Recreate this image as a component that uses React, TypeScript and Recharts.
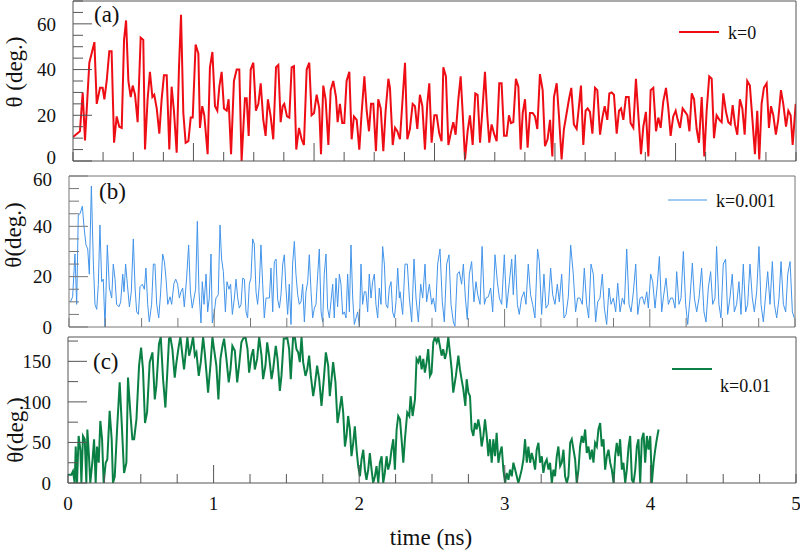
import { LineChart, Line, XAxis, YAxis } from "recharts";

const FONT = '"Liberation Serif", "Times New Roman", serif';
const W = 800;
const H = 554;

// (a) k=0 : [time (ns), theta (deg.)]
const kZero = [
  [0, 10.5], [0.048, 13], [0.067, 30], [0.083, 9], [0.113, 43], [0.148, 52], [0.164, 25], [0.187, 32], [0.205, 32], [0.217, 27],
  [0.233, 35], [0.251, 48], [0.267, 48], [0.284, 8], [0.302, 19.5], [0.32, 15], [0.337, 14.5], [0.353, 53], [0.367, 61.5], [0.383, 35],
  [0.399, 28], [0.413, 33], [0.429, 29], [0.447, 17], [0.468, 54], [0.486, 53], [0.498, 5], [0.516, 27], [0.532, 39], [0.549, 28],
  [0.562, 29], [0.579, 23], [0.597, 12], [0.613, 27], [0.629, 37.5], [0.648, 37.5], [0.666, 5], [0.682, 32.5], [0.698, 22], [0.717, 3.6],
  [0.733, 41], [0.747, 64], [0.763, 21], [0.779, 8], [0.798, 8.7], [0.814, 19], [0.828, 19], [0.848, 51], [0.867, 47], [0.878, 14.5],
  [0.894, 24], [0.908, 20], [0.931, 3], [0.947, 41], [0.964, 47.7], [0.982, 24], [0.998, 22], [1.012, 32.5], [1.028, 39], [1.044, 23],
  [1.063, 22], [1.076, 27], [1.093, 3], [1.113, 35], [1.132, 40], [1.15, 40], [1.166, 0], [1.189, 27.5], [1.201, 27.5], [1.215, 11],
  [1.229, 40], [1.247, 43], [1.265, 22], [1.282, 25], [1.298, 34], [1.316, 18], [1.332, 11], [1.348, 27], [1.367, 19.5], [1.385, 9.5],
  [1.404, 41], [1.42, 42], [1.436, 17], [1.45, 24], [1.461, 25], [1.48, 19.5], [1.496, 19], [1.512, 41], [1.528, 41.5], [1.544, 5],
  [1.563, 14.5], [1.581, 9.5], [1.597, 7], [1.616, 40], [1.634, 43], [1.65, 20], [1.667, 21], [1.685, 29], [1.703, 23], [1.715, 3],
  [1.731, 33], [1.747, 27], [1.766, 7], [1.782, 31], [1.8, 35], [1.819, 28], [1.83, 17], [1.846, 25], [1.862, 16.6], [1.876, 16.6],
  [1.892, 35], [1.911, 39], [1.927, 9.5], [1.943, 19.5], [1.962, 18], [1.98, 5], [1.996, 21], [2.015, 37], [2.031, 22], [2.047, 13],
  [2.061, 25], [2.077, 25], [2.095, 4.3], [2.111, 27], [2.128, 23], [2.146, 4.3], [2.162, 22], [2.181, 36], [2.192, 32], [2.211, 7],
  [2.227, 14.5], [2.243, 13], [2.261, 9.5], [2.296, 43], [2.312, 9.5], [2.33, 14], [2.349, 25], [2.365, 24], [2.381, 14], [2.399, 29],
  [2.416, 24], [2.434, 5], [2.45, 25], [2.464, 34], [2.48, 8], [2.499, 20], [2.515, 20], [2.533, 12], [2.549, 8.7], [2.561, 41],
  [2.579, 37], [2.596, 7], [2.612, 12], [2.63, 17], [2.646, 11.5], [2.665, 27], [2.681, 37], [2.695, 21], [2.711, 0.7], [2.729, 13],
  [2.745, 20], [2.764, 7], [2.782, 29.6], [2.798, 29], [2.815, 8], [2.831, 22], [2.849, 39], [2.865, 20], [2.879, 8], [2.895, 16],
  [2.914, 11.5], [2.93, 8.7], [2.948, 34], [2.964, 34], [2.981, 11], [2.999, 11], [3.015, 20], [3.029, 16.6], [3.045, 17], [3.063, 36],
  [3.08, 32.5], [3.096, 5], [3.11, 21], [3.126, 27], [3.144, 5.8], [3.16, 21], [3.179, 21], [3.195, 19.5], [3.211, 14], [3.229, 38],
  [3.248, 31], [3.264, 6.5], [3.282, 9.5], [3.299, 18], [3.315, 2], [3.326, 28], [3.345, 34], [3.361, 19.5], [3.379, 0.7], [3.395, 14],
  [3.414, 21], [3.43, 27], [3.446, 32], [3.464, 16], [3.483, 14], [3.499, 24], [3.513, 33], [3.529, 7], [3.545, 22], [3.559, 23],
  [3.575, 21.5], [3.592, 12], [3.61, 32], [3.626, 31], [3.645, 11.5], [3.661, 19], [3.677, 24], [3.695, 18], [3.709, 29.6], [3.725, 30],
  [3.741, 29], [3.76, 12], [3.776, 22], [3.79, 23], [3.806, 18], [3.824, 28], [3.843, 28], [3.856, 16.6], [3.875, 14.5], [3.893, 36],
  [3.912, 18], [3.928, 3], [3.944, 15], [3.962, 21.5], [3.979, 2], [3.995, 31], [4.013, 32], [4.032, 13], [4.048, 19], [4.064, 14.5],
  [4.082, 26], [4.101, 32], [4.117, 23], [4.133, 11], [4.151, 19.5], [4.168, 22], [4.182, 18], [4.198, 14.5], [4.216, 23], [4.233, 21.5],
  [4.249, 20], [4.263, 13], [4.279, 29.6], [4.295, 27], [4.313, 14], [4.329, 8], [4.348, 28], [4.366, 2], [4.382, 22], [4.4, 37],
  [4.417, 36], [4.433, 10], [4.451, 20], [4.47, 18], [4.486, 17], [4.497, 29.6], [4.516, 21.5], [4.532, 17], [4.548, 16], [4.562, 24.5],
  [4.578, 16], [4.594, 11.5], [4.612, 27], [4.629, 23], [4.645, 11.5], [4.663, 35], [4.681, 33], [4.7, 17], [4.716, 3], [4.732, 22],
  [4.746, 0.7], [4.762, 25], [4.778, 32], [4.797, 34], [4.813, 14.5], [4.827, 24], [4.843, 20], [4.861, 11.5], [4.877, 18], [4.896, 31],
  [4.912, 25], [4.931, 15], [4.947, 22], [4.963, 20], [4.977, 7], [4.998, 25],
];

// (b) k=0.001
const kMilli = [
  [0.01, 10], [0.025, 12], [0.041, 29], [0.053, 9], [0.064, 44.5], [0.076, 45], [0.092, 48], [0.103, 40], [0.117, 32.6], [0.129, 31],
  [0.14, 21], [0.154, 56], [0.168, 25], [0.179, 9], [0.191, 7], [0.202, 17], [0.213, 40.5], [0.225, 18], [0.236, 19], [0.248, 0],
  [0.264, 32.6], [0.278, 15.5], [0.294, 11.5], [0.305, 25], [0.317, 19], [0.328, 9], [0.344, 8], [0.356, 10], [0.37, 21], [0.379, 14],
  [0.39, 25], [0.402, 17], [0.416, 8], [0.429, 14], [0.443, 35], [0.455, 15.5], [0.466, 6], [0.478, 5], [0.489, 16], [0.505, 17],
  [0.519, 15], [0.53, 23.4], [0.542, 9], [0.553, 2], [0.569, 9], [0.581, 25], [0.592, 25], [0.604, 9], [0.618, 3.6], [0.631, 13.5],
  [0.645, 29], [0.657, 26], [0.668, 19.4], [0.68, 9], [0.696, 12], [0.707, 9], [0.723, 17.4], [0.735, 19], [0.748, 17], [0.76, 11.5],
  [0.771, 14], [0.783, 15.5], [0.794, 8], [0.81, 19.4], [0.824, 32.6], [0.836, 14], [0.849, 7.5], [0.861, 11.5], [0.872, 15], [0.884, 42],
  [0.895, 14], [0.909, 1.6], [0.918, 18], [0.93, 9], [0.944, 21], [0.955, 6], [0.966, 11.5], [0.978, 29], [0.987, 1.6], [1.001, 6],
  [1.012, 11.5], [1.028, 12.8], [1.04, 40.5], [1.051, 27], [1.063, 22], [1.077, 6], [1.088, 18], [1.102, 15], [1.113, 17], [1.125, 5],
  [1.139, 11.5], [1.15, 19], [1.162, 11.5], [1.173, 7.5], [1.185, 9], [1.196, 19.4], [1.208, 19], [1.219, 6], [1.23, 3.6], [1.242, 17],
  [1.253, 19.4], [1.265, 35], [1.276, 33], [1.288, 14], [1.299, 9], [1.311, 17], [1.322, 32.6], [1.334, 17], [1.345, 3.6], [1.357, 11.5],
  [1.368, 11.5], [1.38, 11.5], [1.391, 23.4], [1.403, 6], [1.414, 26], [1.426, 27], [1.437, 11], [1.449, 7.5], [1.46, 12.8], [1.472, 25],
  [1.483, 28.7], [1.494, 15.5], [1.506, 5], [1.517, 17], [1.529, 1], [1.54, 25], [1.552, 34], [1.563, 21], [1.575, 12.8], [1.586, 9],
  [1.598, 10], [1.609, 17], [1.621, 2], [1.632, 14], [1.644, 18], [1.655, 28.7], [1.667, 14], [1.678, 3.6], [1.69, 7.5], [1.701, 9],
  [1.713, 21], [1.724, 31], [1.736, 6], [1.747, 2], [1.758, 21], [1.77, 29], [1.781, 7.5], [1.793, 3.6], [1.804, 10], [1.816, 17],
  [1.827, 3.6], [1.839, 19.4], [1.85, 8], [1.862, 21], [1.873, 17], [1.885, 5], [1.896, 6], [1.908, 3.6], [1.919, 21], [1.931, 6],
  [1.942, 32.6], [1.954, 11.5], [1.965, 1], [1.977, 3.6], [1.988, 6], [2.0, 0], [2.011, 25], [2.022, 9], [2.034, 14], [2.045, 14],
  [2.057, 6], [2.068, 21], [2.08, 11.5], [2.091, 18], [2.103, 21], [2.114, 9], [2.126, 3.6], [2.137, 15.5], [2.149, 9], [2.16, 32],
  [2.172, 25], [2.183, 9], [2.195, 7.5], [2.206, 15.5], [2.218, 18], [2.229, 6], [2.241, 3.6], [2.252, 10], [2.264, 23.4], [2.275, 11.5],
  [2.28, 14], [2.298, 5], [2.314, 25], [2.33, 25], [2.344, 11.5], [2.36, 2], [2.376, 27], [2.39, 11.5], [2.406, 2], [2.422, 17],
  [2.436, 11.5], [2.452, 25], [2.463, 10], [2.482, 17], [2.498, 9], [2.509, 11.5], [2.525, 6], [2.539, 25], [2.555, 31], [2.571, 10],
  [2.585, 2], [2.601, 25], [2.617, 28.7], [2.631, 9], [2.647, 2], [2.658, 0.3], [2.674, 21], [2.688, 22], [2.704, 17], [2.716, 25],
  [2.73, 11.5], [2.743, 3], [2.757, 21], [2.773, 26], [2.789, 10], [2.803, 18], [2.815, 12.8], [2.831, 9], [2.845, 32], [2.861, 9],
  [2.872, 11.5], [2.888, 12], [2.904, 15.5], [2.918, 6], [2.934, 28.7], [2.95, 18], [2.964, 11.5], [2.98, 9], [2.998, 28.7], [3.014, 7.5],
  [3.033, 18], [3.049, 27], [3.06, 12.8], [3.074, 28.7], [3.088, 9], [3.101, 5], [3.117, 11.5], [3.134, 14], [3.147, 9], [3.163, 25],
  [3.179, 12.8], [3.193, 9], [3.209, 3.6], [3.227, 31], [3.239, 26], [3.255, 5], [3.271, 21], [3.285, 7.5], [3.301, 9], [3.317, 23.4],
  [3.331, 12.8], [3.347, 9], [3.363, 17], [3.377, 10], [3.393, 21], [3.409, 3.6], [3.423, 5], [3.439, 12], [3.455, 32.6], [3.473, 21],
  [3.489, 6], [3.503, 11.5], [3.519, 11.5], [3.535, 9], [3.549, 23.4], [3.565, 9], [3.579, 3.6], [3.595, 25], [3.611, 21], [3.627, 2],
  [3.641, 10], [3.657, 11.5], [3.673, 21], [3.687, 7.5], [3.703, 1], [3.719, 15.5], [3.733, 9], [3.749, 11.5], [3.765, 6], [3.779, 17.4],
  [3.795, 6], [3.811, 11.5], [3.825, 9], [3.841, 31], [3.857, 9], [3.871, 6], [3.887, 14], [3.903, 25], [3.917, 5], [3.933, 11.5],
  [3.949, 12], [3.963, 9], [3.979, 14], [3.99, 7.5], [4.006, 21], [4.02, 18], [4.036, 7.5], [4.052, 17], [4.066, 28], [4.082, 6],
  [4.093, 11.5], [4.112, 19.4], [4.128, 9], [4.144, 11.5], [4.158, 11.5], [4.174, 7.5], [4.185, 22], [4.201, 9], [4.215, 11.5], [4.231, 30],
  [4.247, 9], [4.261, 1], [4.277, 11.5], [4.293, 25.4], [4.307, 11.5], [4.323, 6], [4.339, 11.5], [4.357, 23.4], [4.373, 6], [4.387, 2],
  [4.403, 15.5], [4.419, 22], [4.433, 9], [4.449, 11.5], [4.46, 32], [4.476, 9], [4.49, 3.6], [4.506, 25], [4.522, 27], [4.536, 5],
  [4.552, 11.5], [4.568, 21], [4.582, 6], [4.598, 9], [4.614, 18], [4.628, 5], [4.644, 25], [4.66, 6], [4.674, 9], [4.69, 25],
  [4.706, 11.5], [4.72, 6], [4.736, 14], [4.752, 32], [4.766, 9], [4.782, 2], [4.798, 12.8], [4.812, 22], [4.828, 9], [4.844, 26],
  [4.858, 9], [4.874, 3.6], [4.89, 11.5], [4.904, 26], [4.92, 9], [4.936, 6], [4.95, 21], [4.966, 26], [4.982, 6], [4.995, 3.6],
];

// (c) k=0.01
const kCenti = [
  [0, 10.3], [0.023, 10.3], [0.034, 14.5], [0.046, 0], [0.053, 45], [0.062, 0], [0.073, 58], [0.085, 41], [0.092, 0], [0.103, 58],
  [0.115, 54], [0.126, 0], [0.133, 66], [0.144, 33], [0.153, 0], [0.167, 25], [0.179, 54], [0.19, 0], [0.199, 45], [0.211, 25],
  [0.222, 76.5], [0.234, 54], [0.245, 0], [0.259, 25], [0.27, 29], [0.286, 89], [0.3, 54], [0.309, 0], [0.321, 8], [0.337, 66],
  [0.355, 124], [0.371, 66], [0.385, 12.4], [0.401, 25], [0.412, 130], [0.428, 87], [0.442, 54], [0.454, 54], [0.47, 78.5], [0.488, 144.6],
  [0.502, 167], [0.515, 140], [0.529, 74], [0.543, 87], [0.561, 149], [0.58, 161], [0.596, 103], [0.607, 120], [0.625, 171.5], [0.637, 180],
  [0.653, 128], [0.669, 93], [0.683, 140], [0.694, 178], [0.703, 180], [0.717, 165], [0.733, 130], [0.745, 149], [0.761, 169], [0.772, 180],
  [0.786, 157], [0.797, 140], [0.809, 161], [0.82, 180], [0.832, 157], [0.843, 165], [0.859, 180], [0.871, 157], [0.882, 161], [0.898, 132],
  [0.912, 149], [0.928, 180], [0.939, 161], [0.951, 136], [0.962, 111.5], [0.978, 144.6], [0.992, 180], [1.003, 165], [1.019, 144.6], [1.033, 103],
  [1.047, 153], [1.061, 169], [1.072, 178], [1.088, 153], [1.104, 124], [1.116, 140], [1.129, 169], [1.146, 163], [1.162, 124], [1.175, 144.6],
  [1.191, 173.5], [1.203, 178], [1.219, 180], [1.233, 165], [1.244, 136], [1.26, 157], [1.272, 165], [1.283, 140], [1.299, 153], [1.313, 180],
  [1.329, 157], [1.34, 128], [1.356, 144.6], [1.368, 173.5], [1.381, 157], [1.398, 128], [1.409, 140], [1.427, 169], [1.439, 153], [1.455, 113.6],
  [1.466, 132], [1.482, 178], [1.494, 178], [1.505, 180], [1.519, 165], [1.53, 128], [1.546, 180], [1.558, 180], [1.569, 165], [1.581, 161],
  [1.592, 149], [1.604, 180], [1.615, 149], [1.631, 132], [1.643, 140], [1.656, 157], [1.668, 132], [1.684, 107], [1.695, 120], [1.711, 144.6],
  [1.725, 128], [1.741, 95], [1.757, 128], [1.771, 161], [1.787, 144.6], [1.798, 107], [1.81, 128], [1.821, 149], [1.837, 124], [1.851, 74],
  [1.863, 87], [1.879, 107], [1.89, 87], [1.902, 45], [1.913, 58], [1.924, 82.6], [1.936, 66], [1.947, 33], [1.959, 49.6], [1.97, 70],
  [1.982, 41], [1.993, 20.7], [2.005, 8.3], [2.016, 29], [2.028, 41], [2.039, 16.5], [2.05, 4], [2.062, 16.5], [2.073, 37], [2.085, 16.5],
  [2.096, 0], [2.108, 8.3], [2.119, 20.7], [2.131, 0], [2.142, 25], [2.154, 33], [2.165, 0], [2.176, 12.4], [2.188, 33], [2.199, 16.5],
  [2.211, 25], [2.222, 41], [2.234, 54], [2.245, 16.5], [2.257, 66], [2.268, 82.6], [2.28, 78.5], [2.291, 54], [2.303, 25], [2.314, 54],
  [2.33, 87], [2.344, 82.6], [2.353, 107], [2.367, 82.6], [2.383, 103], [2.394, 153], [2.406, 149], [2.417, 157], [2.429, 140], [2.44, 153],
  [2.451, 136], [2.463, 149], [2.474, 165], [2.486, 132], [2.497, 136], [2.509, 173.5], [2.52, 180], [2.532, 173.5], [2.543, 180], [2.554, 169],
  [2.566, 157], [2.577, 165], [2.589, 153], [2.6, 161], [2.612, 180], [2.623, 161], [2.635, 140], [2.646, 111.5], [2.664, 132], [2.681, 157],
  [2.692, 140], [2.703, 128], [2.715, 115.7], [2.729, 95], [2.738, 128], [2.75, 111.5], [2.761, 107], [2.772, 66], [2.784, 58], [2.795, 74],
  [2.807, 66], [2.818, 78.5], [2.83, 66], [2.841, 45], [2.853, 58], [2.864, 78.5], [2.876, 58], [2.887, 33], [2.898, 54], [2.91, 25],
  [2.921, 54], [2.933, 33], [2.944, 62], [2.956, 25], [2.967, 37], [2.979, 45], [2.99, 16.5], [3.002, 0], [3.013, 12.4], [3.025, 4],
  [3.036, 16.5], [3.048, 8.3], [3.059, 25], [3.071, 16.5], [3.082, 8.3], [3.093, 0], [3.105, 8.3], [3.116, 16.5], [3.128, 29], [3.139, 54],
  [3.151, 25], [3.162, 45], [3.174, 25], [3.185, 37], [3.196, 29], [3.208, 16.5], [3.219, 41], [3.231, 49.6], [3.242, 25], [3.254, 33],
  [3.265, 12.4], [3.277, 25], [3.288, 29], [3.3, 16.5], [3.311, 25], [3.323, 0], [3.334, 16.5], [3.345, 8.3], [3.357, 33], [3.368, 45],
  [3.38, 20.7], [3.391, 25], [3.403, 41], [3.414, 8.3], [3.426, 0], [3.437, 8.3], [3.449, 49.6], [3.46, 54], [3.472, 41], [3.483, 29],
  [3.494, 0], [3.506, 16.5], [3.517, 45], [3.529, 58], [3.54, 49.6], [3.552, 66], [3.563, 37], [3.575, 45], [3.586, 29], [3.598, 41],
  [3.609, 25], [3.62, 49.6], [3.632, 45], [3.643, 66], [3.655, 74], [3.666, 45], [3.678, 54], [3.689, 16.5], [3.701, 33], [3.712, 41],
  [3.724, 25], [3.735, 16.5], [3.747, 0], [3.758, 33], [3.769, 49.6], [3.781, 33], [3.792, 54], [3.804, 16.5], [3.815, 25], [3.827, 0],
  [3.838, 16.5], [3.85, 45], [3.861, 58], [3.873, 4], [3.884, 0], [3.896, 16.5], [3.907, 45], [3.918, 54], [3.93, 0], [3.941, 54],
  [3.953, 62], [3.964, 25], [3.976, 58], [3.987, 41], [3.999, 58], [4.01, 0], [4.022, 25], [4.033, 41], [4.044, 54], [4.056, 66],
];

// ticks
const xTicksA = [0, 0.208, 0.417, 0.625, 0.833, 1.042, 1.25, 1.458, 1.667, 1.875, 2.083, 2.292, 2.5, 2.708, 2.917, 3.125, 3.333, 3.542, 3.75, 3.958, 4.167, 4.375, 4.583, 4.792, 5];
const xLongA = [0.833, 1.667, 2.5, 3.333, 4.167];
const xTicksBC = [0, 0.25, 0.5, 0.75, 1, 1.25, 1.5, 1.75, 2, 2.25, 2.5, 2.75, 3, 3.25, 3.5, 3.75, 4, 4.25, 4.5, 4.75, 5];
const xLongBC = [1, 2, 3, 4];
const xLabels = [0, 1, 2, 3, 4, 5];
const yTicksA = [0, 5, 10, 15, 20, 25, 30, 35, 40, 45, 50, 55, 60, 65, 70];
const yLabelsA = [0, 20, 40, 60];
const yTicksB = [0, 5, 10, 15, 20, 25, 30, 35, 40, 45, 50, 55, 60];
const yLabelsB = [0, 20, 40, 60];
const yTicksC = [0, 25, 50, 75, 100, 125, 150, 175];
const yLabelsC = [0, 50, 100, 150];

const has = (list: number[], v: number) => list.some((m) => Math.abs(m - v) < 1e-3);

const makeXTick = (longAt: number[], labels: number[], color: string) => (props: any) => {
  const { x, y, payload } = props;
  const v = payload.value;
  return (
    <g>
      <line x1={x} x2={x} y1={y} y2={y - (has(longAt, v) ? 18 : 9)} stroke={color} strokeWidth={1} />
      {has(labels, v) && (
        <text x={x} y={y + 27} textAnchor="middle" style={{ fontFamily: FONT, fontSize: 19 }} fill="#111">
          {v}
        </text>
      )}
    </g>
  );
};

// nudge: small vertical shifts for labels that sit where two panels meet
const makeYTick = (labels: number[], color: string, nudge: Record<number, number>) => (props: any) => {
  const { x, y, payload } = props;
  const v = payload.value;
  const major = has(labels, v);
  return (
    <g>
      <line x1={x} x2={x + (major ? 19 : 10)} y1={y} y2={y} stroke={color} strokeWidth={1} />
      {major && (
        <text x={x - 17} y={y + (nudge[v] ?? 0)} dy="0.35em" textAnchor="end" style={{ fontFamily: FONT, fontSize: 19 }} fill="#111">
          {v}
        </text>
      )}
    </g>
  );
};

type PanelProps = {
  series: number[][];
  color: string;
  lineWidth: number;
  frame: string;
  box: { left: number; right: number; top: number; bottom: number };
  yMax: number;
  xTicks: number[];
  xLong: number[];
  xLabelList: number[];
  yTicks: number[];
  yLabels: number[];
  nudge?: Record<number, number>;
};

function Panel({ series, color, lineWidth, frame, box, yMax, xTicks, xLong, xLabelList, yTicks, yLabels, nudge = {} }: PanelProps) {
  const rows = series.map(([t, v]) => ({ t, v }));
  return (
    <div style={{ position: "absolute", left: 0, top: 0 }}>
      <LineChart
        width={W}
        height={H}
        data={rows}
        margin={{ top: box.top - 1, left: box.left - 1, right: W - box.right - 1, bottom: H - box.bottom - 1 }}
      >
        <XAxis
          dataKey="t"
          type="number"
          domain={[0, 5]}
          ticks={xTicks}
          interval={0}
          height={1}
          tickSize={0}
          tickMargin={0}
          tickLine={false}
          stroke={frame}
          tick={makeXTick(xLong, xLabelList, frame)}
          allowDataOverflow
        />
        <XAxis xAxisId="top" dataKey="t" type="number" orientation="top" domain={[0, 5]} height={1} tick={false} tickLine={false} stroke={frame} />
        <YAxis
          dataKey="v"
          type="number"
          domain={[0, yMax]}
          ticks={yTicks}
          interval={0}
          width={1}
          tickSize={0}
          tickMargin={0}
          tickLine={false}
          stroke={frame}
          tick={makeYTick(yLabels, frame, nudge)}
          allowDataOverflow
        />
        <YAxis yAxisId="right" dataKey="v" type="number" orientation="right" domain={[0, yMax]} width={1} tick={false} tickLine={false} stroke={frame} />
        <Line
          type="linear"
          dataKey="v"
          stroke={color}
          strokeWidth={lineWidth}
          dot={false}
          activeDot={false}
          isAnimationActive={false}
        />
      </LineChart>
    </div>
  );
}

const RED = "#ee0d14";
const BLUE = "#4294ea";
const GREEN = "#0b8045";

export default function App() {
  return (
    <div style={{ position: "absolute", left: 0, top: 0, width: W, height: H, background: "#fff", overflow: "hidden" }}>
      <Panel
        series={kZero}
        color={RED}
        lineWidth={2}
        frame="#555"
        box={{ left: 73, right: 796, top: 1, bottom: 161 }}
        yMax={70}
        xTicks={xTicksA}
        xLong={xLongA}
        xLabelList={[]}
        yTicks={yTicksA}
        yLabels={yLabelsA}
        nudge={{ 0: -4 }}
      />
      <Panel
        series={kMilli}
        color={BLUE}
        lineWidth={1}
        frame="#777"
        box={{ left: 69, right: 795, top: 176, bottom: 327 }}
        yMax={60}
        xTicks={xTicksBC}
        xLong={xLongBC}
        xLabelList={[]}
        yTicks={yTicksB}
        yLabels={yLabelsB}
        nudge={{ 60: 3 }}
      />
      <Panel
        series={kCenti}
        color={GREEN}
        lineWidth={2}
        frame="#555"
        box={{ left: 68, right: 796, top: 337, bottom: 483 }}
        yMax={180}
        xTicks={xTicksBC}
        xLong={xLongBC}
        xLabelList={xLabels}
        yTicks={yTicksC}
        yLabels={yLabelsC}
      />
      <svg width={W} height={H} style={{ position: "absolute", left: 0, top: 0, pointerEvents: "none", fontFamily: FONT }}>
        <g fill="#111">
          <text x={94} y={22} fontSize={23}>(a)</text>
          <text x={99} y={199} fontSize={23}>(b)</text>
          <text x={93} y={369} fontSize={23}>(c)</text>

          <line x1={679} x2={719} y1={32} y2={32} stroke={RED} strokeWidth={2} />
          <text x={728} y={39} fontSize={18}>k=0</text>
          <line x1={668} x2={707} y1={200} y2={200} stroke={BLUE} strokeWidth={1} />
          <text x={716} y={207} fontSize={18}>k=0.001</text>
          <line x1={672} x2={712} y1={369} y2={369} stroke={GREEN} strokeWidth={2} />
          <text x={720} y={392} fontSize={18}>k=0.01</text>

          <text transform="translate(14,72) rotate(-90)" textAnchor="middle" dy="0.35em" fontSize={23}>θ (deg.)</text>
          <text transform="translate(13,235) rotate(-90)" textAnchor="middle" dy="0.35em" fontSize={23}>θ(deg.)</text>
          <text transform="translate(15,430) rotate(-90)" textAnchor="middle" dy="0.35em" fontSize={23}>θ(deg.)</text>

          <text x={431} y={545} textAnchor="middle" fontSize={23}>time (ns)</text>
        </g>
      </svg>
    </div>
  );
}
